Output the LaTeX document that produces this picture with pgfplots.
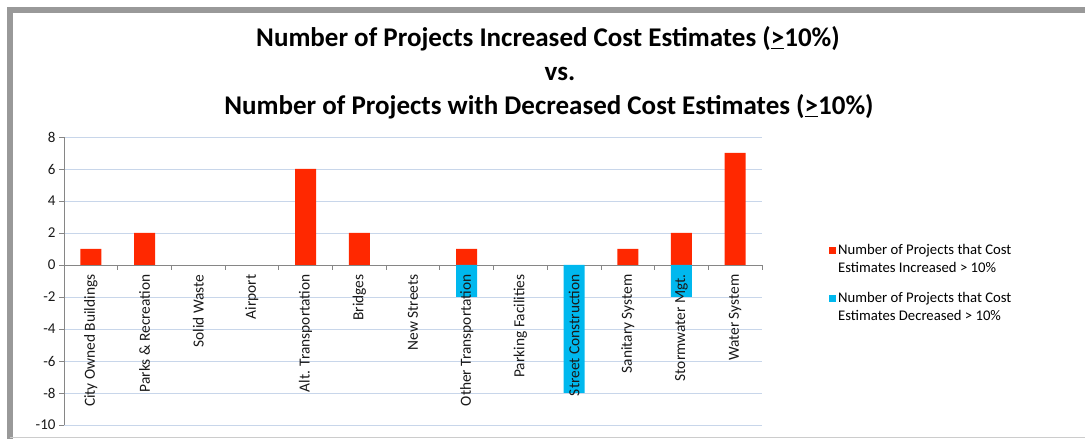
\documentclass[border=0pt]{standalone}
\usepackage{pgfplots}
\pgfplotsset{compat=1.18}
\usepackage{fontspec}
\setmainfont{Carlito}
\definecolor{incr}{RGB}{255,40,0}
\definecolor{decr}{RGB}{0,184,238}
\definecolor{gridc}{RGB}{200,214,234}
\definecolor{axc}{RGB}{134,134,134}
\definecolor{framec}{RGB}{153,153,153}
\begin{document}
\begin{tikzpicture}
\draw[framec, line width=6pt] (10pt,-20pt) -- (10pt,429pt) -- (1100pt,429pt);
\draw[black!20, line width=1pt] (10pt,1pt) -- (1100pt,1pt);
\node[anchor=base, font=\bfseries\fontsize{27}{30}\selectfont] at (548pt,392pt) {Number of Projects Increased Cost Estimates (\underline{>}10\%)};
\node[anchor=base, font=\bfseries\fontsize{27}{30}\selectfont] at (560pt,358pt) {vs.};
\node[anchor=base, font=\bfseries\fontsize{27}{30}\selectfont] at (549pt,324pt) {Number of Projects with Decreased Cost Estimates (\underline{>}10\%)};
\begin{axis}[
  set layers,
  at={(64pt,14pt)}, anchor=south west,
  width=698pt, height=288pt, scale only axis,
  xmin=-0.5, xmax=12.5, ymin=-10, ymax=8,
  ytick={-10,-8,...,8},
  ymajorgrids, grid style={gridc, line width=0.8pt},
  axis y line*=left, axis x line*=middle,
  axis line style={axc, line width=0.8pt, -},
  tick style={axc, line width=0.8pt},
  ytick align=outside, major tick length=5pt,
  xtick={0,...,12},
  xtick style={draw=none},
  extra x ticks={0.5,1.5,...,12.5},
  extra x tick labels={},
  extra x tick style={xtick style={draw=axc}, tick align=outside},
  xticklabels={City Owned Buildings, Parks \& Recreation, Solid Waste, Airport, Alt. Transportation, Bridges, New Streets, Other Transportation, Parking Facilities, Street Construction, Sanitary System, Stormwater Mgt., Water System},
  xticklabel shift=6pt,
  xticklabel style={rotate=90, anchor=east, font=\fontsize{15.4}{16}\selectfont, text=black!90, /pgfplots/on layer=axis foreground},
  yticklabel style={font=\fontsize{15}{16}\selectfont, text=black!90},
  /pgf/number format/assume math mode=true,
  unbounded coords=discard,
  legend style={at={(1.0917,0.642)}, anchor=north west, draw=none, fill=none,
    font=\fontsize{14.7}{18}\selectfont, cells={anchor=west, align=left}, row sep=14pt},
]
\addplot[ybar, bar width=21pt, bar shift=0pt, fill=incr, draw=none,
  y filter/.expression={y==0 ? nan : y},
  legend image code/.code={\fill[incr] (0pt,5pt) rectangle (7pt,12pt);}]
  coordinates {(0,1) (1,2) (2,0) (3,0) (4,6) (5,2) (6,0) (7,1) (8,0) (9,0) (10,1) (11,2) (12,7)};
\addlegendentry{Number of Projects that Cost\\Estimates Increased > 10\%}
\addplot[ybar, bar width=21pt, bar shift=0pt, fill=decr, draw=none,
  y filter/.expression={y==0 ? nan : y},
  legend image code/.code={\fill[decr] (0pt,5pt) rectangle (7pt,12pt);}]
  coordinates {(0,0) (1,0) (2,0) (3,0) (4,0) (5,0) (6,0) (7,-2) (8,0) (9,-8) (10,0) (11,-2) (12,0)};
\addlegendentry{Number of Projects that Cost\\Estimates Decreased > 10\%}
\end{axis}
\pgfresetboundingbox
\path[use as bounding box] (0pt,0pt) rectangle (1085pt,439pt);
\end{tikzpicture}
\end{document}
